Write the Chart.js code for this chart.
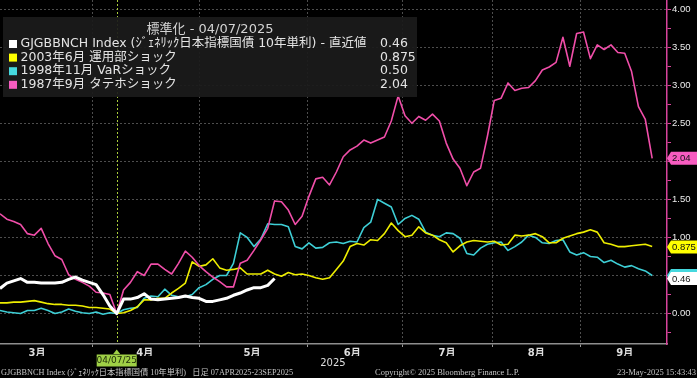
<!DOCTYPE html>
<html>
<head>
<meta charset="utf-8">
<script src="https://cdn.jsdelivr.net/npm/chart.js@4.4.0/dist/chart.umd.min.js"></script>
<style>
  html, body { margin: 0; padding: 0; background: #000; }
  canvas { display: block; background: #000; }
</style>
</head>
<body>
<canvas id="shockChart" width="697" height="378"></canvas>
<script>
// x = trading-day index, 0 = left edge of the plot
const EVENT_INDEX = 17;
const EVENT_LABEL = "04/07/25";
const X_MAX = 97.16;

const monthBounds = [13.45, 29.13, 44.76, 58.56, 71.67, 84.63];
const monthPos = [5.4, 21.1, 36.7, 51.3, 65.1, 78.1, 91.0];
const monthLabels = ["3月", "4月", "5月", "6月", "7月", "8月", "9月"];
const yearPos = [48.5];
const yearLabels = ["2025"];
const yTicks = [-0.25, 0, 0.25, 0.5, 0.75, 1, 1.25, 1.5, 1.75, 2, 2.25, 2.5, 2.75, 3, 3.25, 3.5, 3.75, 4];

const legendTitle = "標準化 - 04/07/2025";
const seriesNames = [
  "GJGBBNCH Index (ｼﾞｪﾈﾘｯｸ日本指標国債 10年単利) - 直近値",
  "2003年6月 運用部ショック",
  "1998年11月 VaRショック",
  "1987年9月 タテホショック"
];
const latestValues = [0.46, 0.875, 0.50, 2.04];
const latestText = ["0.46", "0.875", "0.50", "2.04"];

const footerLeft = "GJGBBNCH Index (ｼﾞｪﾈﾘｯｸ日本指標国債 10年単利)   日足 07APR2025-23SEP2025";
const footerMid = "Copyright© 2025 Bloomberg Finance L.P.";
const footerRight = "23-May-2025 15:43:43";

const jgbIndex = [0.33, 0.40, 0.43, 0.46, 0.41, 0.41, 0.40, 0.40, 0.40, 0.41, 0.45, 0.48, 0.44, 0.41, 0.38, 0.25, 0.10,
  0.00, 0.19, 0.19, 0.21, 0.26, 0.19, 0.18, 0.19, 0.20, 0.21, 0.23, 0.21, 0.20, 0.16, 0.16, 0.18, 0.20, 0.24, 0.27,
  0.31, 0.34, 0.34, 0.37, 0.46];

const shock2003 = [0.14, 0.14, 0.15, 0.15, 0.16, 0.17, 0.15, 0.13, 0.12, 0.12, 0.11, 0.11, 0.10, 0.08, 0.08, 0.07, 0.06,
  0.00, 0.01, 0.04, 0.09, 0.18, 0.18, 0.20, 0.20, 0.27, 0.33, 0.40, 0.68, 0.62, 0.64, 0.72, 0.60, 0.57, 0.58, 0.60,
  0.52, 0.52, 0.52, 0.57, 0.52, 0.49, 0.54, 0.51, 0.52, 0.50, 0.47, 0.45, 0.47,
  0.58, 0.69, 0.88, 0.92, 0.90, 0.97, 0.96, 1.05, 1.19, 1.09, 1.01, 1.03, 1.14, 1.06, 1.03, 0.97, 0.93, 0.81, 0.89,
  0.94, 0.96, 0.95, 0.94, 0.95, 0.90, 0.91, 1.03, 1.02, 1.03, 1.05, 1.01, 0.93, 0.93, 0.99, 1.02, 1.05, 1.07, 1.10,
  1.07, 0.93, 0.91, 0.88, 0.88, 0.89, 0.90, 0.91, 0.88];

const shock1998 = [0.04, 0.02, 0.01, 0.00, 0.04, 0.04, 0.07, 0.04, 0.00, 0.02, 0.06, 0.03, 0.01, 0.00, 0.02, -0.01, 0.01,
  0.00, 0.05, 0.07, 0.08, 0.20, 0.23, 0.22, 0.32, 0.24, 0.22, 0.22, 0.25, 0.34, 0.38, 0.45, 0.50, 0.50, 0.66, 1.06,
  1.00, 0.88, 0.98, 1.18, 1.17, 1.17, 1.14, 0.88, 0.85, 0.93, 0.86, 0.87, 0.93,
  0.94, 0.92, 0.95, 0.94, 1.13, 1.20, 1.50, 1.45, 1.40, 1.17, 1.25, 1.29, 1.24, 1.07, 1.03, 1.01, 1.06, 1.05, 0.99,
  0.79, 0.77, 0.86, 0.91, 0.93, 0.94, 0.83, 0.88, 0.94, 1.03, 1.00, 0.93, 0.92, 0.96, 0.97, 0.81, 0.77, 0.80, 0.75,
  0.74, 0.67, 0.70, 0.65, 0.61, 0.63, 0.59, 0.56, 0.50];

const shock1987 = [1.31, 1.24, 1.21, 1.17, 1.05, 1.03, 1.12, 0.92, 0.76, 0.71, 0.51, 0.45, 0.41, 0.36, 0.28, 0.27, 0.25,
  0.00, 0.31, 0.41, 0.55, 0.50, 0.65, 0.65, 0.58, 0.52, 0.66, 0.82, 0.74, 0.63, 0.55, 0.48, 0.42, 0.35, 0.35, 0.66,
  0.70, 0.83, 0.97, 1.12, 1.48, 1.47, 1.36, 1.17, 1.28, 1.54, 1.77, 1.79, 1.69,
  1.86, 2.06, 2.15, 2.20, 2.28, 2.24, 2.28, 2.32, 2.53, 2.86, 2.60, 2.50, 2.59, 2.54, 2.62, 2.53, 2.24, 2.03, 1.91,
  1.68, 1.86, 1.91, 2.33, 2.80, 2.83, 3.03, 2.93, 2.96, 2.97, 3.06, 3.20, 3.24, 3.30, 3.63, 3.25, 3.68, 3.70, 3.35,
  3.53, 3.47, 3.53, 3.43, 3.42, 3.18, 2.72, 2.55, 2.04];

const lineColors = ["#ffffff", "#eeee00", "#3ecfd6", "#f04ea9"];
const tagColors = ["#ffffff", "#ffff00", "#45d8de", "#f75cc0"];
const GRID = "#4d4d4d";
const AXIS_PINK = "#d8449c";

const toPoints = (arr) => arr.map((y, i) => ({ x: i, y: y }));
const isMajor = (v) => v >= 0 && Math.abs(v * 2 - Math.round(v * 2)) < 1e-6;

// keep the plot flush with the canvas edges
const noPad = (scale) => {
  scale.paddingTop = 0;
  scale.paddingBottom = 0;
  scale.paddingLeft = 0;
  scale.paddingRight = 0;
};

const decor = {
  id: "decor",
  beforeDraw(chart) {
    const { ctx, width, height } = chart;
    ctx.save();
    ctx.fillStyle = "#000";
    ctx.fillRect(0, 0, width, height);
    ctx.restore();
  },
  beforeDatasetsDraw(chart) {
    const { ctx, chartArea, scales } = chart;
    const x = Math.round(scales.x.getPixelForValue(EVENT_INDEX)) + 0.5;
    ctx.save();
    ctx.strokeStyle = "#a9cc3a";
    ctx.lineWidth = 1;
    ctx.setLineDash([2, 2]);
    ctx.beginPath();
    ctx.moveTo(x, chartArea.top);
    ctx.lineTo(x, chartArea.bottom);
    ctx.stroke();
    ctx.restore();
  },
  afterDatasetsDraw(chart) {
    // legend box
    const { ctx } = chart;
    ctx.save();
    ctx.fillStyle = "rgba(27,27,27,0.93)";
    ctx.fillRect(3, 17, 414, 80);
    ctx.textBaseline = "middle";
    ctx.fillStyle = "#d4d4d4";
    ctx.font = '13px "DejaVu Sans", "Noto Sans CJK JP", sans-serif';
    ctx.textAlign = "center";
    ctx.fillText(legendTitle, 210, 30);
    ctx.font = '12.5px "DejaVu Sans", "Noto Sans CJK JP", sans-serif';
    ctx.textAlign = "left";
    seriesNames.forEach((name, k) => {
      const y = 44 + k * 13.6;
      ctx.fillStyle = tagColors[k];
      ctx.fillRect(9, y - 4, 8, 8);
      ctx.fillStyle = "#e4e4e4";
      ctx.fillText(name, 20.5, y);
      ctx.fillText(latestText[k], 380, y);
    });
    ctx.restore();
  },
  afterDraw(chart) {
    const { ctx, chartArea, scales } = chart;
    ctx.save();

    // value tags on the right axis
    const order = [3, 1, 2, 0];
    ctx.font = '9.5px "Liberation Sans", sans-serif';
    ctx.textBaseline = "middle";
    ctx.textAlign = "left";
    order.forEach((k) => {
      const cy = scales.y.getPixelForValue(latestValues[k]);
      const l = chartArea.right;
      ctx.fillStyle = tagColors[k];
      ctx.beginPath();
      ctx.moveTo(l, cy);
      ctx.lineTo(l + 4, cy - 6.5);
      ctx.lineTo(697, cy - 6.5);
      ctx.lineTo(697, cy + 6.5);
      ctx.lineTo(l + 4, cy + 6.5);
      ctx.closePath();
      ctx.fill();
      ctx.fillStyle = "#111";
      ctx.fillText(latestText[k], l + 5, cy + 0.5);
    });

    // event date marker under the axis
    const ex = scales.x.getPixelForValue(EVENT_INDEX);
    ctx.fillStyle = "#9fd046";
    ctx.beginPath();
    ctx.moveTo(ex, 349.5);
    ctx.lineTo(ex + 3.5, 354);
    ctx.lineTo(ex - 3.5, 354);
    ctx.closePath();
    ctx.fill();
    ctx.fillRect(ex - 20, 354.5, 40, 12);
    ctx.fillStyle = "#1d2a08";
    ctx.font = '9px "DejaVu Sans", sans-serif';
    ctx.textAlign = "center";
    ctx.fillText(EVENT_LABEL, ex, 361);

    // footer
    ctx.fillStyle = "#c4c4c4";
    ctx.font = '8.5px "Liberation Serif", "Noto Sans CJK JP", serif';
    ctx.textAlign = "left";
    ctx.fillText(footerLeft, 1, 373, 292);
    ctx.fillText(footerMid, 375, 373, 157);
    ctx.textAlign = "right";
    ctx.fillText(footerRight, 696, 373, 96);
    ctx.restore();
  }
};

Chart.defaults.font.family = '"DejaVu Sans", "Noto Sans CJK JP", sans-serif';
Chart.defaults.color = "#dcdcdc";

const ctx = document.getElementById("shockChart").getContext("2d");
new Chart(ctx, {
  type: "line",
  data: {
    datasets: [
      { label: seriesNames[0], data: toPoints(jgbIndex), borderColor: lineColors[0], borderWidth: 3, order: 0 },
      { label: seriesNames[3], data: toPoints(shock1987), borderColor: lineColors[3], borderWidth: 1.6, order: 1 },
      { label: seriesNames[1], data: toPoints(shock2003), borderColor: lineColors[1], borderWidth: 1.6, order: 2 },
      { label: seriesNames[2], data: toPoints(shock1998), borderColor: lineColors[2], borderWidth: 1.6, order: 3 }
    ]
  },
  options: {
    responsive: false,
    devicePixelRatio: 1,
    animation: false,
    layout: { padding: { top: 0, left: 0, right: 0, bottom: 11 } },
    elements: { point: { radius: 0 }, line: { tension: 0, borderJoinStyle: "round" } },
    plugins: { legend: { display: false }, tooltip: { enabled: false } },
    scales: {
      x: {
        type: "linear",
        min: 0,
        max: X_MAX,
        position: "bottom",
        weight: 0,
        afterBuildTicks: (scale) => {
          scale.ticks = monthBounds.concat(monthPos).sort((a, b) => a - b).map((v) => ({ value: v }));
        },
        afterFit: (scale) => { scale.height = 12; noPad(scale); },
        grid: {
          color: (c) => (c.tick && monthBounds.includes(c.tick.value) ? GRID : "transparent"),
          tickColor: (c) => (c.tick && monthBounds.includes(c.tick.value) ? "#9a9a9a" : "transparent"),
          tickLength: 3,
        },
        border: { display: true, color: "#8e8e8e", width: 1.5, dash: [2, 2] },
        ticks: {
          autoSkip: false,
          maxRotation: 0,
          minRotation: 0,
          padding: 0,
          color: "#dedede",
          font: { size: 10, weight: "bold" },
          callback: (value) => {
            const k = monthPos.indexOf(value);
            return k >= 0 ? monthLabels[k] : "";
          },
        },
      },
      x2: {
        type: "linear",
        min: 0,
        max: X_MAX,
        position: "bottom",
        weight: 1,
        afterBuildTicks: (scale) => {
          scale.ticks = yearPos.map((v) => ({ value: v }));
        },
        afterFit: (scale) => { scale.height = 11; noPad(scale); },
        grid: { display: false, drawTicks: false },
        border: { display: false },
        ticks: {
          autoSkip: false,
          maxRotation: 0,
          padding: 1,
          color: "#dedede",
          font: { size: 10 },
          callback: (value) => {
            const k = yearPos.indexOf(value);
            return k >= 0 ? yearLabels[k] : "";
          },
        },
      },
      y: {
        type: "linear",
        position: "right",
        min: -0.40,
        max: 4.12,
        afterBuildTicks: (scale) => {
          scale.ticks = yTicks.map((v) => ({ value: v }));
        },
        afterFit: (scale) => { scale.width = 30; noPad(scale); },
        grid: {
          color: (c) => (c.tick && isMajor(c.tick.value) ? GRID : "transparent"),
          tickColor: AXIS_PINK,
          tickLength: 4,
        },
        border: { display: true, color: AXIS_PINK, width: 1.5, dash: [2, 2] },
        ticks: {
          autoSkip: false,
          padding: 1,
          color: "#ececec",
          font: { family: '"Liberation Sans", sans-serif', size: 9.5 },
          callback: (value) => (isMajor(value) ? value.toFixed(2) : ""),
        },
      },
    },
  },
  plugins: [decor],
});
</script>
</body>
</html>
